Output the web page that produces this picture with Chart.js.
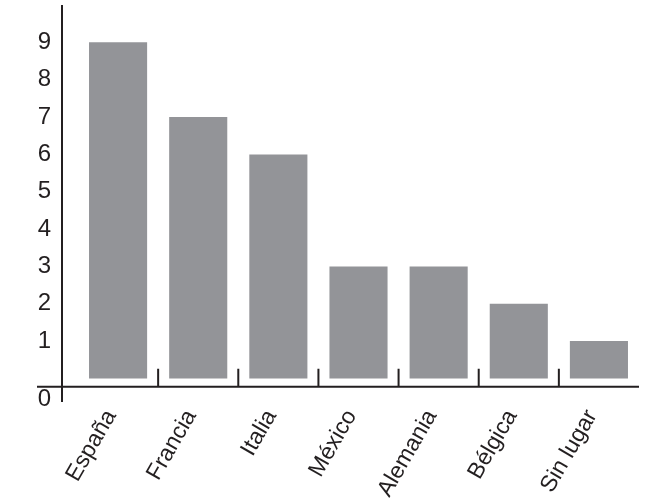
<!DOCTYPE html>
<html>
<head>
<meta charset="utf-8">
<script src="https://cdn.jsdelivr.net/npm/chart.js@4/dist/chart.umd.min.js"></script>
<style>
    html, body { margin: 0; padding: 0; background: #fff; }
    #wrap { width: 650px; height: 499px; }
</style>
</head>
<body>
<div id="wrap"><canvas id="barChart"></canvas></div>
<script>
'use strict';

var countries = ['España', 'Francia', 'Italia', 'México', 'Alemania', 'Bélgica', 'Sin lugar'];
var counts = [9, 7, 6, 3, 3, 2, 1];
var yTicks = [0, 1, 2, 3, 4, 5, 6, 7, 8, 9];

// the "0" label sits below the axis line in the original
var ZERO_LABEL_AT = -0.57;
var AXIS_AT = -0.22;
var TICK_TOP_AT = 0.26;
var INK = '#231f20';

var axisLines = {
    id: 'axisLines',
    afterDatasetsDraw: function (chart) {
        var ctx = chart.ctx;
        var area = chart.chartArea;
        var x = chart.scales.x;
        var y = chart.scales.y;
        var axisY = y.getPixelForValue(AXIS_AT);
        var tickTop = y.getPixelForValue(TICK_TOP_AT);
        var yAxisX = area.left - 16;

        ctx.save();
        ctx.strokeStyle = INK;
        ctx.lineWidth = 2;
        ctx.beginPath();
        ctx.moveTo(yAxisX, area.top);
        ctx.lineTo(yAxisX, area.bottom);
        ctx.moveTo(area.left - 41, axisY);
        ctx.lineTo(area.right, axisY);
        for (var i = 1; i < countries.length; i++) {
            var bx = (x.getPixelForValue(i - 1) + x.getPixelForValue(i)) / 2;
            ctx.moveTo(bx, tickTop);
            ctx.lineTo(bx, axisY);
        }
        ctx.stroke();
        ctx.restore();
    }
};

var barData = {
    labels: countries,
    datasets: [
        {
            data: counts,
            backgroundColor: '#939498',
            borderWidth: 0,
            barPercentage: 0.725,
            categoryPercentage: 1
        }
    ]
};

var barOptions = {
    responsive: true,
    maintainAspectRatio: false,
    animation: false,
    layout: {
        padding: { top: 5, right: 11, bottom: 0, left: 0 }
    },
    plugins: {
        legend: { display: false },
        tooltip: { enabled: false }
    },
    scales: {
        x: {
            grid: { display: false, drawTicks: false },
            border: { display: false },
            afterFit: function (scale) { scale.height = 97; },
            ticks: {
                color: INK,
                font: { family: 'Liberation Sans, Arial, sans-serif', size: 23 },
                minRotation: 60,
                maxRotation: 60,
                padding: 3,
                labelOffset: -7,
                autoSkip: false
            }
        },
        y: {
            min: -0.63,
            max: 10,
            grid: { display: false, drawTicks: false },
            border: { display: false },
            afterFit: function (scale) {
                scale.width = 78;
                // tick padding would otherwise push the plot area down
                scale.paddingTop = 0;
                scale.paddingBottom = 0;
            },
            afterBuildTicks: function (scale) {
                scale.ticks = yTicks.map(function (v) {
                    return { value: v === 0 ? ZERO_LABEL_AT : v };
                });
            },
            ticks: {
                color: INK,
                font: { family: 'Liberation Sans, Arial, sans-serif', size: 24 },
                padding: 27,
                callback: function (value) {
                    return value < 0 ? '0' : String(value);
                }
            }
        }
    }
};

new Chart(document.getElementById('barChart').getContext('2d'), {
    type: 'bar',
    data: barData,
    options: barOptions,
    plugins: [axisLines]
});
</script>
</body>
</html>
